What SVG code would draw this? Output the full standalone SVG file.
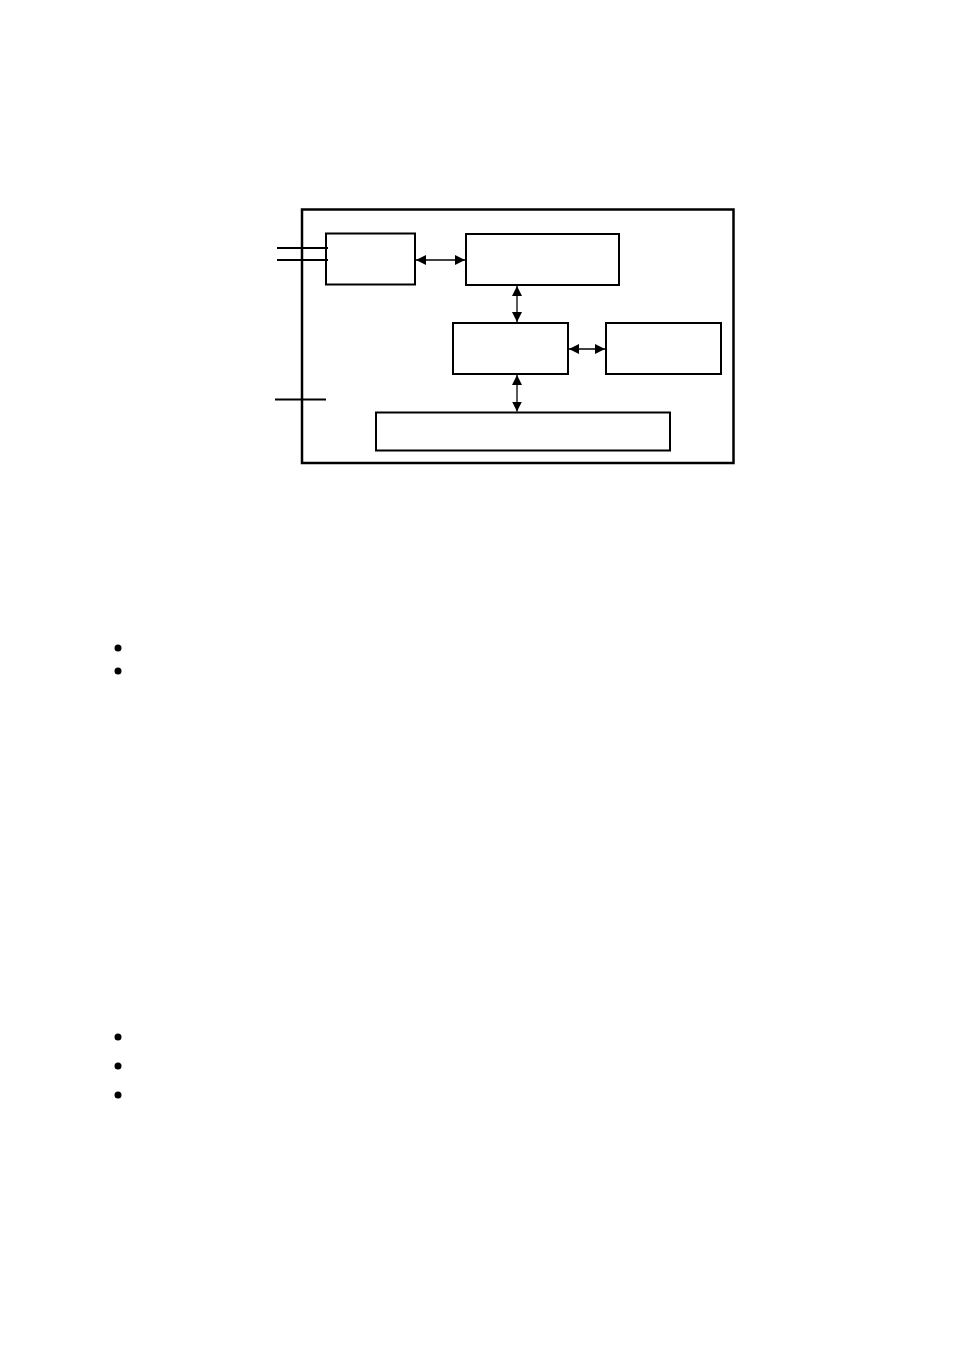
<svg xmlns="http://www.w3.org/2000/svg" width="954" height="1351" viewBox="0 0 954 1351">
<style>
.box{fill:none;stroke:#000;stroke-width:2}
.outer{fill:none;stroke:#000;stroke-width:2.5}
.ln{stroke:#000;stroke-width:1.3;fill:none}
.wire{stroke:#000;stroke-width:2;fill:none}
.dot{fill:#000}
</style>
<defs>
<marker id="ah" viewBox="0 0 10 10" refX="10" refY="5" markerWidth="10" markerHeight="10" markerUnits="userSpaceOnUse" orient="auto-start-reverse">
<path d="M0,0 L10,5 L0,10 Z" fill="#000"/>
</marker>
</defs>
<rect width="954" height="1351" fill="#fff"/>
<g id="outer"><rect class="outer" x="302" y="209.5" width="431.5" height="253.5"/></g>
<g id="nodeA"><rect class="box" x="326" y="233.5" width="89" height="51"/></g>
<g id="nodeB"><rect class="box" x="466" y="234" width="153" height="51"/></g>
<g id="nodeC"><rect class="box" x="453" y="323" width="115" height="51"/></g>
<g id="nodeD"><rect class="box" x="606" y="323" width="115" height="51"/></g>
<g id="nodeE"><rect class="box" x="376" y="412.5" width="294" height="38"/></g>
<g id="connectors">
<line class="wire" x1="277" y1="248" x2="328" y2="248"/>
<line class="wire" x1="277" y1="260" x2="328" y2="260"/>
<line class="wire" x1="275" y1="399.5" x2="326" y2="399.5"/>
<line class="ln" x1="416" y1="260" x2="465" y2="260" marker-start="url(#ah)" marker-end="url(#ah)"/>
<line class="ln" x1="517" y1="286" x2="517" y2="322" marker-start="url(#ah)" marker-end="url(#ah)"/>
<line class="ln" x1="569" y1="349" x2="605" y2="349" marker-start="url(#ah)" marker-end="url(#ah)"/>
<line class="ln" x1="517" y1="375" x2="517" y2="411.5" marker-start="url(#ah)" marker-end="url(#ah)"/>
</g>
<g id="bullets">
<circle class="dot" cx="118" cy="648" r="3.5"/>
<circle class="dot" cx="118" cy="671" r="3.5"/>
<circle class="dot" cx="118" cy="1037" r="3.5"/>
<circle class="dot" cx="118" cy="1066" r="3.5"/>
<circle class="dot" cx="118" cy="1095" r="3.5"/>
</g>
</svg>
